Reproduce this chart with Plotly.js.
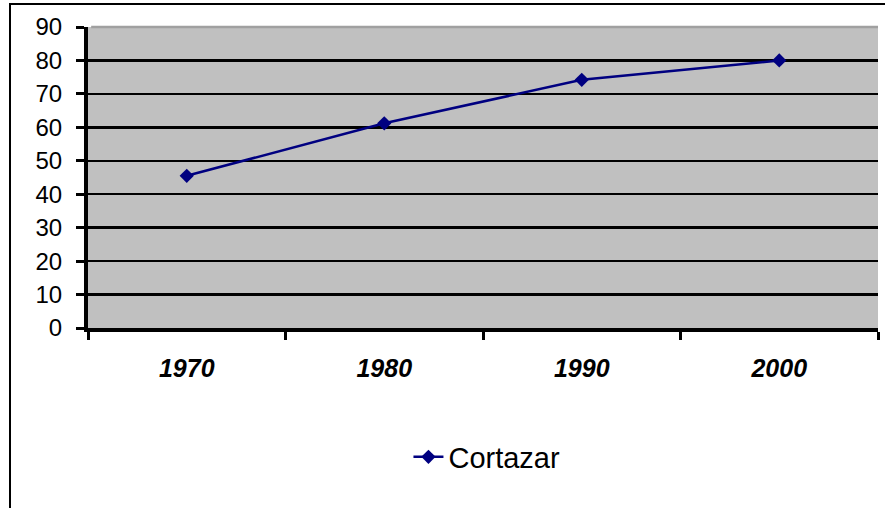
<!DOCTYPE html>
<html>
<head>
<meta charset="utf-8">
<script src="https://cdn.plot.ly/plotly-3.0.1.min.js"></script>
<style>
  html, body { margin: 0; padding: 0; background: #fff; }
  #wrap { position: relative; width: 885px; height: 508px; overflow: hidden; }
  #chart { position: absolute; left: 0; top: 0; width: 885px; height: 508px; }
  #frame { position: absolute; left: 9px; top: 3px; width: 890px; height: 520px;
           border: 2px solid #000; pointer-events: none; box-sizing: border-box; }
</style>
</head>
<body>
<div id="wrap">
  <div id="chart"></div>
  <div id="frame"></div>
</div>
<script>
const years = ["1970", "1980", "1990", "2000"];
const cortazar = [45.5, 61.2, 74.2, 80];
const seriesName = "Cortazar";
const yTicks = [0, 10, 20, 30, 40, 50, 60, 70, 80, 90];

const trace = {
  x: years,
  y: cortazar,
  name: seriesName,
  type: "scatter",
  mode: "lines+markers",
  line: { color: "#000080", width: 2.5 },
  marker: { symbol: "diamond", size: 11, color: "#000080" }
};

const layout = {
  width: 885,
  height: 508,
  margin: { l: 88, r: 7, t: 27, b: 180 },
  paper_bgcolor: "#ffffff",
  plot_bgcolor: "#c0c0c0",
  font: { family: "Liberation Sans, Arial, sans-serif", color: "#000" },
  showlegend: true,
  legend: {
    x: 0.505, xanchor: "center",
    y: -0.4286, yanchor: "middle",
    orientation: "h",
    font: { size: 29, color: "#000" },
    bgcolor: "rgba(0,0,0,0)"
  },
  xaxis: {
    type: "category",
    range: [-0.5, 3.5],
    tickson: "boundaries",
    ticks: "outside",
    ticklen: 8,
    tickwidth: 3,
    tickcolor: "#000",
    showline: true,
    linecolor: "#000",
    linewidth: 4,
    showgrid: false,
    zeroline: false,
    ticklabelstandoff: 15,
    tickfont: { size: 25, family: "Liberation Sans, Arial, sans-serif", weight: "bold", style: "italic", color: "#000" },
    fixedrange: true
  },
  yaxis: {
    range: [0, 90],
    tickvals: yTicks,
    ticktext: yTicks.map(String),
    ticks: "outside",
    ticklen: 8,
    tickwidth: 3,
    tickcolor: "#000",
    showline: true,
    linecolor: "#000",
    linewidth: 4,
    showgrid: true,
    gridcolor: "#000",
    gridwidth: 2.5,
    zeroline: false,
    ticklabelstandoff: 9,
    tickfont: { size: 24, family: "Liberation Sans, Arial, sans-serif", color: "#000" },
    fixedrange: true
  },
  shapes: [
    { type: "line", xref: "paper", yref: "paper", x0: 0.004, x1: 1, y0: 1, y1: 1,
      line: { color: "#a0a0a0", width: 2.5 }, layer: "above" }
  ]
};

Plotly.newPlot("chart", [trace], layout, { displayModeBar: false, staticPlot: true });
</script>
</body>
</html>
